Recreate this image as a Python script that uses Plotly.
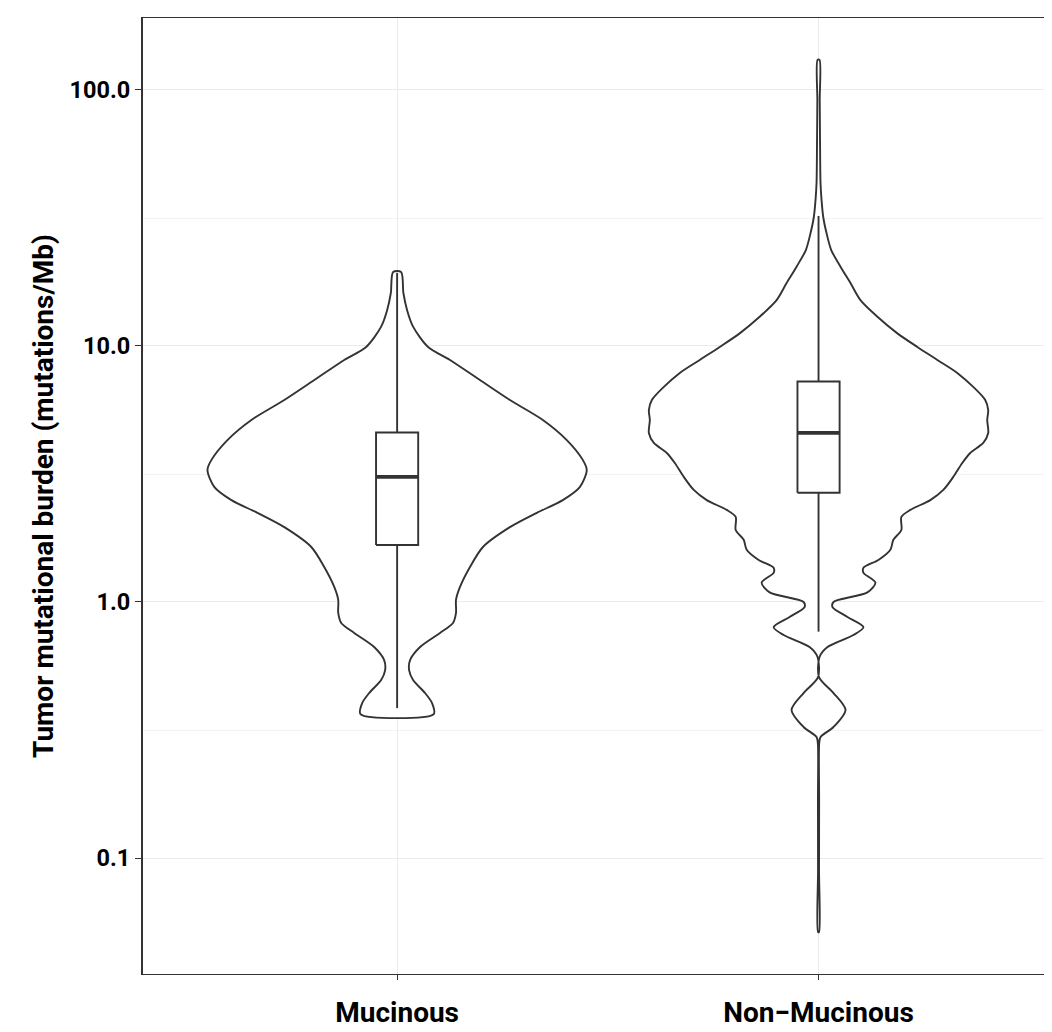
import plotly.graph_objects as go

# ---------------- data ----------------
categories = ["Mucinous", "Non\u2212Mucinous"]
cat_pos = [1, 2]

# violin outline: TMB level (mutations/Mb) and relative density (half-width)
muc_tmb = [19.45, 16.1, 13.8, 11.9, 9.91, 8.82, 7.36, 6.15, 5.14, 4.29, 3.59, 3.28,
           2.81, 2.50, 2.23, 1.96, 1.64, 1.37, 1.145, 1.02, 0.906, 0.828, 0.757,
           0.667, 0.593, 0.542, 0.496, 0.441, 0.403, 0.365]
muc_dens = [4, 6.3, 10, 16, 31, 53, 83, 113, 146, 170, 186, 190,
            183, 166, 140, 113, 86, 73, 63, 59, 59, 56, 43,
            23, 13, 12, 16, 28, 35, 36.7]

non_tmb = [131, 91.4, 63.8, 43.3, 37.2, 31.9, 27.6, 23.7, 20.4, 17.6, 15.1, 13.0,
           11.2, 9.91, 8.82, 7.85, 6.92, 6.15, 5.62, 5.14, 4.57, 4.18, 3.82, 3.49,
           3.08, 2.74, 2.50, 2.29, 2.15, 1.91, 1.75, 1.60, 1.46, 1.36, 1.30, 1.19,
           1.09, 1.00, 0.955, 0.874, 0.798, 0.743, 0.667, 0.610, 0.509, 0.441,
           0.379, 0.325, 0.297, 0.281, 0.169, 0.0898, 0.0514]
non_dens = [1, 1.2, 1.5, 2, 3, 4.7, 8, 12.7, 22, 32, 42, 59,
            79, 99, 119, 139, 155, 167, 170, 169, 170, 165, 152, 144,
            135, 125, 112, 92, 83, 83, 75, 72, 60, 45, 45, 57,
            49, 15, 14, 29, 45, 35, 9, 1, 0.5, 15,
            27, 15, 2, 0.7, 0.6, 0.5, 0.5]

# box statistics
box_lower = [0.385, 0.766]
box_q1 = [1.67, 2.67]
box_median = [3.08, 4.58]
box_q3 = [4.59, 7.26]
box_upper = [19.3, 32.2]

# y-axis ticks
y_tickvals = [0.1, 1, 10, 100]
y_ticktext = ["0.1", "1.0", "10.0", "100.0"]
y_minor = [0.316, 3.16, 31.6]

# ---------------- figure ----------------
LINE = "#333333"
VIOLIN_HALF = 0.45
BOX_WIDTH = 0.1

fig = go.Figure()

max_d = max(max(muc_dens), max(non_dens))
for pos, tmb, dens in [(cat_pos[0], muc_tmb, muc_dens), (cat_pos[1], non_tmb, non_dens)]:
    w = [d / max_d * VIOLIN_HALF for d in dens]
    xs = [pos + v for v in w] + [pos - v for v in reversed(w)] + [pos + w[0]]
    ys = list(tmb) + list(reversed(tmb)) + [tmb[0]]
    fig.add_trace(go.Scatter(
        x=xs, y=ys, mode="lines", fill="toself", fillcolor="white",
        line=dict(color=LINE, width=1.9, shape="spline", smoothing=0.8),
        hoverinfo="skip", showlegend=False))

for i, pos in enumerate(cat_pos):
    xl, xr = pos - BOX_WIDTH / 2, pos + BOX_WIDTH / 2
    # whiskers
    fig.add_trace(go.Scatter(
        x=[pos, pos, None, pos, pos],
        y=[box_q3[i], box_upper[i], None, box_q1[i], box_lower[i]],
        mode="lines", line=dict(color=LINE, width=1.9),
        hoverinfo="skip", showlegend=False))
    # box
    fig.add_trace(go.Scatter(
        x=[xl, xr, xr, xl, xl],
        y=[box_q1[i], box_q1[i], box_q3[i], box_q3[i], box_q1[i]],
        mode="lines", fill="toself", fillcolor="white",
        line=dict(color=LINE, width=1.9),
        hoverinfo="skip", showlegend=False))
    # median
    fig.add_trace(go.Scatter(
        x=[xl, xr], y=[box_median[i], box_median[i]],
        mode="lines", line=dict(color=LINE, width=3.8),
        hoverinfo="skip", showlegend=False))

fig.update_layout(
    width=1044, height=1024,
    margin=dict(l=135, r=0, t=10, b=58, pad=0),
    paper_bgcolor="white", plot_bgcolor="white",
    font=dict(family="Roboto", color="black"),
)
fig.update_xaxes(
    type="linear", range=[0.397, 2.554],
    tickvals=cat_pos, ticktext=categories,
    tickfont=dict(family="Roboto", size=28, color="black", weight="bold"),
    ticklabelstandoff=8,
    showgrid=True, gridcolor="#ebebeb", gridwidth=1,
    showline=True, linecolor=LINE, linewidth=1.3, mirror=True,
    ticks="outside", ticklen=5, tickcolor=LINE, tickwidth=1.2,
    zeroline=False,
)
fig.update_yaxes(
    type="log", range=[-1.453, 2.281],
    tickvals=y_tickvals, ticktext=y_ticktext,
    tickfont=dict(family="Roboto", size=23.5, color="black", weight="bold"),
    showgrid=True, gridcolor="#ebebeb", gridwidth=1,
    minor=dict(tickvals=y_minor, showgrid=True, gridcolor="#f3f3f3", gridwidth=1, ticks=""),
    showline=True, linecolor=LINE, linewidth=2, mirror=False,
    ticks="outside", ticklen=6, tickcolor=LINE, tickwidth=1.2,
    zeroline=False,
    title=dict(text="Tumor mutational burden (mutations/Mb)", standoff=8,
               font=dict(family="Roboto", size=28, color="black", weight="bold")),
)

fig.write_html("out.html")
